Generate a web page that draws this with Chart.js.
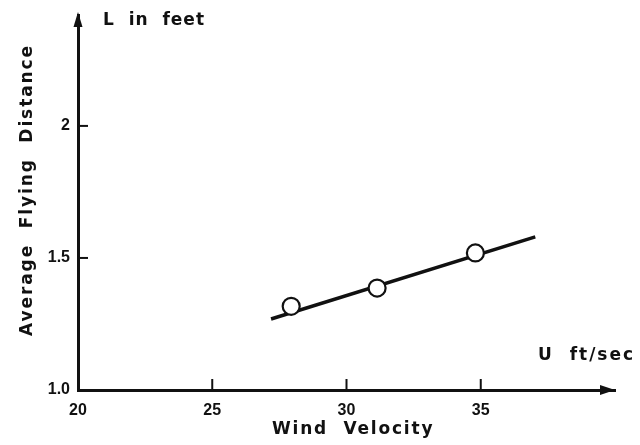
<!DOCTYPE html>
<html>
<head>
<meta charset="utf-8">
<script src="https://cdn.jsdelivr.net/npm/chart.js@4.4.1/dist/chart.umd.min.js"></script>
<style>
  body { margin: 0; background: #fff; }
  canvas { display: block; }
</style>
</head>
<body>
<canvas id="flyChart" width="640" height="445"></canvas>
<script>
// Measured points (wind velocity U in ft/sec, flying distance L in feet)
const windVelocity = [27.94, 31.14, 34.80];
const flyingDistance = [1.317, 1.386, 1.519];
// Ends of the fitted straight line
const fitVelocity = [27.19, 37.03];
const fitDistance = [1.269, 1.580];
// Axis ticks
const xTicks = [20, 25, 30, 35];
const xTickLabels = ['20', '25', '30', '35'];
const yTicks = [1.0, 1.5, 2];
const yTickLabels = ['1.0', '1.5', '2'];

const INK = '#111';

// Inward tick marks, arrow heads and the free-standing labels
const sketchPlugin = {
    id: 'sketch',
    afterDraw(chart) {
        const { ctx, chartArea, scales } = chart;
        const x = scales.x, y = scales.y;
        ctx.save();
        ctx.strokeStyle = INK;
        ctx.fillStyle = INK;
        ctx.lineWidth = 2;

        // tick marks pointing into the plot
        yTicks.forEach(v => {
            if (v === 1.0) return;
            const py = y.getPixelForValue(v);
            ctx.beginPath();
            ctx.moveTo(chartArea.left, py);
            ctx.lineTo(chartArea.left + 10, py);
            ctx.stroke();
        });
        xTicks.forEach(v => {
            if (v === 20) return;
            const px = x.getPixelForValue(v);
            ctx.beginPath();
            ctx.moveTo(px, chartArea.bottom);
            ctx.lineTo(px, chartArea.bottom - 11);
            ctx.stroke();
        });

        // arrow heads
        const ax = chartArea.left;
        ctx.beginPath();
        ctx.moveTo(ax, chartArea.top - 3);
        ctx.lineTo(ax - 4.5, chartArea.top + 12);
        ctx.lineTo(ax + 4.5, chartArea.top + 12);
        ctx.closePath();
        ctx.fill();
        const ay = chartArea.bottom;
        ctx.beginPath();
        ctx.moveTo(chartArea.right, ay);
        ctx.lineTo(chartArea.right - 15, ay - 5);
        ctx.lineTo(chartArea.right - 15, ay + 5);
        ctx.closePath();
        ctx.fill();

        // texts
        ctx.font = 'bold 17px "DejaVu Sans"';
        ctx.textBaseline = 'middle';
        ctx.textAlign = 'left';
        ctx.letterSpacing = '1px';
        ctx.fillText('L  in  feet', 103, 21);
        ctx.letterSpacing = '2px';
        ctx.fillText('U  ft/sec', 538, 356);

        ctx.letterSpacing = '1.8px';
        ctx.fillText('Wind  Velocity', 272, 430);

        ctx.save();
        ctx.translate(28, 190);
        ctx.rotate(-Math.PI / 2);
        ctx.textAlign = 'center';
        ctx.letterSpacing = '1.9px';
        ctx.fillText('Average  Flying  Distance', 0, 0);
        ctx.restore();

        ctx.restore();
    }
};

const ctx = document.getElementById('flyChart').getContext('2d');
new Chart(ctx, {
    type: 'scatter',
    data: {
        datasets: [
            {
                label: 'Measured',
                data: windVelocity.map((u, i) => ({ x: u, y: flyingDistance[i] })),
                pointRadius: 8.5,
                pointBorderWidth: 2.2,
                pointBackgroundColor: '#fff',
                pointBorderColor: INK,
                showLine: false,
                order: 0
            },
            {
                label: 'Fit',
                data: fitVelocity.map((u, i) => ({ x: u, y: fitDistance[i] })),
                showLine: true,
                borderColor: INK,
                borderWidth: 3.5,
                pointRadius: 0,
                order: 1
            }
        ]
    },
    options: {
        responsive: false,
        animation: false,
        layout: { padding: { left: 0, top: 15, right: 25, bottom: 0 } },
        plugins: {
            legend: { display: false },
            tooltip: { enabled: false }
        },
        scales: {
            x: {
                type: 'linear',
                min: 20,
                max: 40,
                afterBuildTicks: scale => { scale.ticks = xTicks.map(v => ({ value: v })); },
                afterFit: scale => { scale.height = 55; },
                grid: { display: false },
                border: { display: true, color: INK, width: 3 },
                ticks: {
                    color: INK,
                    padding: 3,
                    font: { family: 'Liberation Sans', weight: 'bold', size: 16 },
                    callback: v => xTickLabels[xTicks.indexOf(v)]
                }
            },
            y: {
                type: 'linear',
                min: 1.0,
                max: 2.42,
                afterBuildTicks: scale => { scale.ticks = yTicks.map(v => ({ value: v })); },
                afterFit: scale => { scale.width = 78; },
                grid: { display: false },
                border: { display: true, color: INK, width: 3 },
                ticks: {
                    color: INK,
                    padding: 0,
                    font: { family: 'Liberation Sans', weight: 'bold', size: 16 },
                    callback: v => yTickLabels[yTicks.indexOf(v)]
                }
            }
        }
    },
    plugins: [sketchPlugin]
});
</script>
</body>
</html>
